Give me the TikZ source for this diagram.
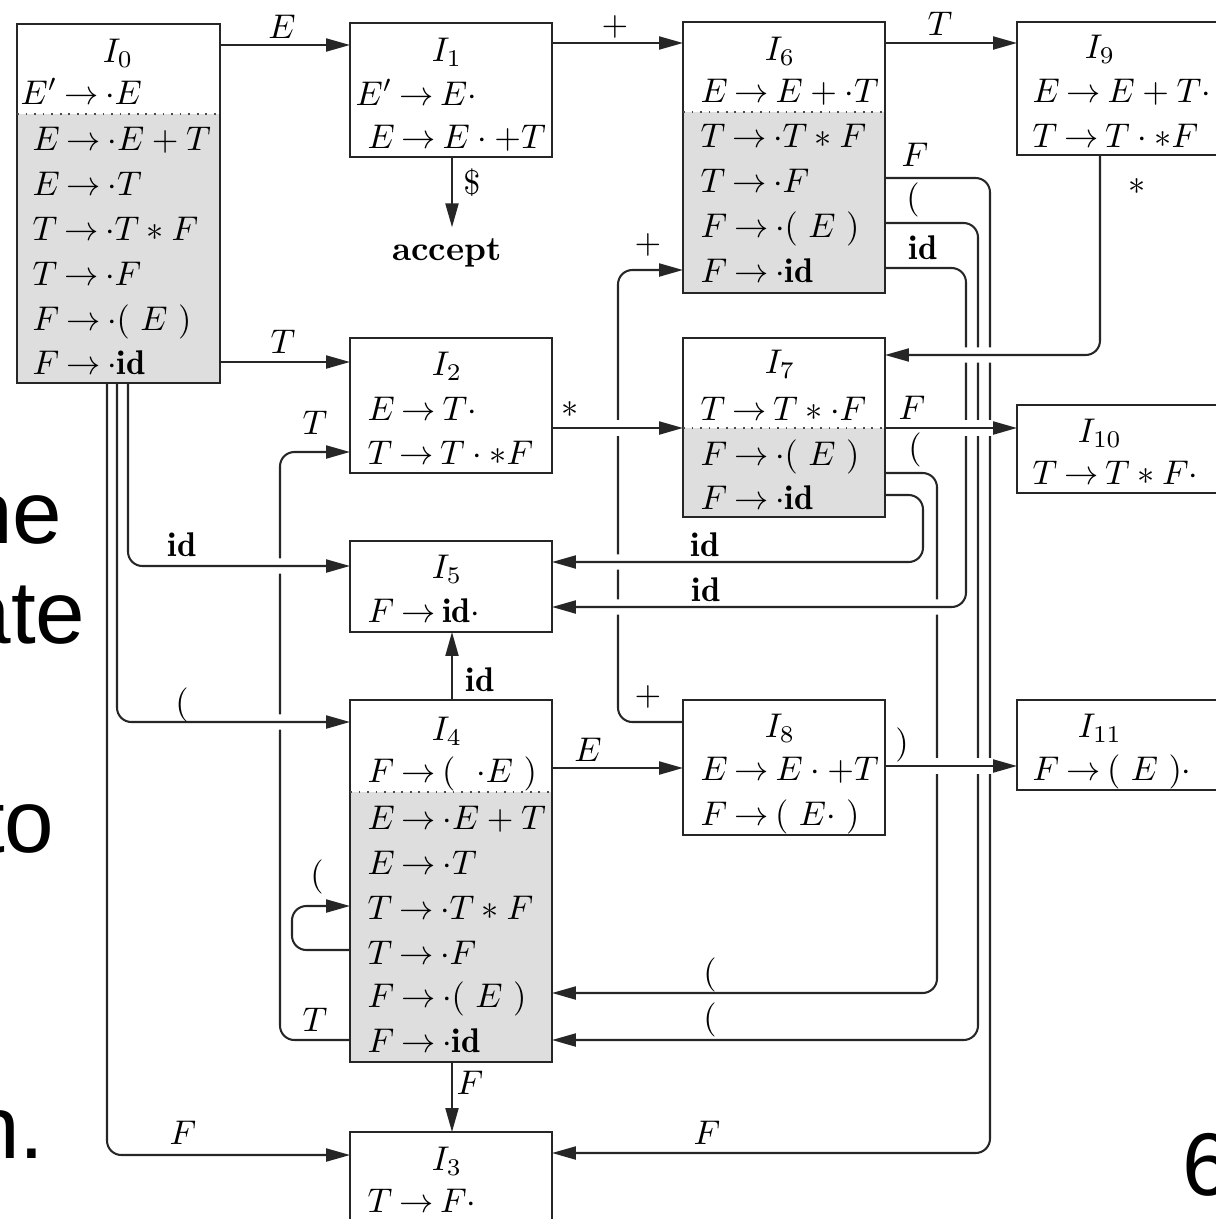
\documentclass[tikz,border=0pt]{standalone}
\usepackage{fontspec}
\newfontfamily\slidefont{Liberation Sans}
\usetikzlibrary{arrows.meta,fit}
\AtBeginDocument{\thickmuskip=3.5mu plus 2mu}
\newcommand\pgapx{\mskip5.5mu}
\begin{document}
\begin{tikzpicture}[x=0.292pt,y=-0.292pt,
  box/.style={draw=black!85, line width=0.6pt, inner sep=0pt, outer sep=0pt},
  shade/.style={fill=black!13},
  sep/.style={draw=black!70, dotted, line width=0.5pt},
  arr/.style={draw=black!85, line width=0.6pt, rounded corners=4.2pt, -{Triangle[length=7pt,width=3.8pt]}},
  over/.style={arr, preaction={draw=white, line width=4.5pt, -, shorten <=2.5pt, shorten >=2.5pt}},
  item/.style={anchor=base west, inner sep=0pt},
  ttl/.style={anchor=base, inner sep=0pt},
  lbl/.style={inner sep=0pt},
  slide/.style={font=\slidefont\fontsize{26}{30}\selectfont, inner sep=0pt}]
\useasboundingbox (0,0) rectangle (1216,1219);
\clip (0,0) rectangle (1216,1219);

% shaded closure parts
\fill[shade] (17,114) rectangle (220,383);
\fill[shade] (683,112) rectangle (885,293);
\fill[shade] (683,428) rectangle (885,517);
\fill[shade] (350,792) rectangle (552,1062);

% state boxes
\node[box, fit={(17,24) (220,383)}] (I0) {};
\node[box, fit={(350,23) (552,157)}] (I1) {};
\node[box, fit={(683,22) (885,293)}] (I6) {};
\node[box, fit={(1017,22) (1240,155)}] (I9) {};
\node[box, fit={(350,338) (552,473)}] (I2) {};
\node[box, fit={(683,338) (885,517)}] (I7) {};
\node[box, fit={(1017,405) (1240,493)}] (I10) {};
\node[box, fit={(350,541) (552,632)}] (I5) {};
\node[box, fit={(350,700) (552,1062)}] (I4) {};
\node[box, fit={(683,700) (885,835)}] (I8) {};
\node[box, fit={(1017,700) (1240,790)}] (I11) {};
\node[box, fit={(350,1132) (552,1250)}] (I3) {};

% dotted separators
\draw[sep] (I0.west |- 0,114) -- (I0.east |- 0,114);
\draw[sep] (I6.west |- 0,112) -- (I6.east |- 0,112);
\draw[sep] (I7.west |- 0,428) -- (I7.east |- 0,428);
\draw[sep] (I4.west |- 0,792) -- (I4.east |- 0,792);

\node[lbl, anchor=base, inner sep=3pt] (accept) at (447,260) {\textbf{accept}};

% plain connectors
\draw[arr] (I0.east |- 0,45) -- (I1.west |- 0,45);
\draw[arr] (I1.east |- 0,43) -- (I6.west |- 0,43);
\draw[arr] (I6.east |- 0,43) -- (I9.west |- 0,43);
\draw[arr] (I1.south -| 452,0) -- (accept.north -| 452,0);
\draw[arr] (I0.east |- 0,362) -- (I2.west |- 0,362);
\draw[arr] (I0.south -| 107,0) -- (107,1155) -- (I3.west |- 0,1155);
\draw[arr] (I4.north -| 452,0) -- (I5.south -| 452,0);
\draw[arr] (I4.east |- 0,768) -- (I8.west |- 0,768);
\draw[arr] (I4.south -| 452,0) -- (I3.north -| 452,0);
\draw[arr] (I8.west |- 0,722) -- (618,722) -- (618,270) -- (I6.west |- 0,270);
\draw[arr] (I4.west |- 0,1040) -- (280,1040) -- (280,452) -- (I2.west |- 0,452);
\draw[arr] (I4.west |- 0,950) -- (292,950) -- (292,906) -- (I4.west |- 0,906);
\draw[arr] (I6.east |- 0,178) -- (990,178) -- (990,1153) -- (I3.east |- 0,1153);
\draw[arr] (I6.east |- 0,223) -- (978,223) -- (978,1040) -- (I4.east |- 0,1040);
\draw[arr] (I7.east |- 0,473) -- (937,473) -- (937,993) -- (I4.east |- 0,993);

% connectors that pass over others
\draw[over] (I6.east |- 0,268) -- (966,268) -- (966,607) -- (I5.east |- 0,607);
\draw[over] (I7.east |- 0,495) -- (923,495) -- (923,562) -- (I5.east |- 0,562);
\draw[over] (I9.south -| 1100,0) -- (1100,355) -- (I7.east |- 0,355);
\draw[over] (I7.east |- 0,428) -- (I10.west |- 0,428);
\draw[over] (I8.east |- 0,766) -- (I11.west |- 0,766);
\draw[over] (I2.east |- 0,428) -- (I7.west |- 0,428);
\draw[over] (I0.south -| 128,0) -- (128,566) -- (I5.west |- 0,566);
\draw[over] (I0.south -| 117,0) -- (117,722) -- (I4.west |- 0,722);

% I0
\node[ttl] (t0) at (118,62) {$I_0$};
\node[item] (r00) at (20,104) {$E'\to\cdot E$};
\node[item] (r01) at (32,150) {$E\to\cdot E+T$};
\node[item] (r02) at (32,195) {$E\to\cdot T$};
\node[item] (r03) at (32,240) {$T\to\cdot T*F$};
\node[item] (r04) at (32,285) {$T\to\cdot F$};
\node[item] (r05) at (32,330) {$F\to\cdot(\pgapx E\pgapx)$};
\node[item] (r06) at (32,374) {$F\to\cdot\mathbf{id}$};
% I1
\node[ttl] (t1) at (447,61) {$I_1$};
\node[item] (r10) at (355,105) {$E'\to E\cdot$};
\node[item] (r11) at (367,148) {$E\to E\cdot+T$};
% I6
\node[ttl] (t6) at (780,60) {$I_6$};
\node[item] (r60) at (700,102) {$E\to E+\cdot T$};
\node[item] (r61) at (700,147) {$T\to\cdot T*F$};
\node[item] (r62) at (700,192) {$T\to\cdot F$};
\node[item] (r63) at (700,237) {$F\to\cdot(\pgapx E\pgapx)$};
\node[item] (r64) at (700,282) {$F\to\cdot\mathbf{id}$};
% I9
\node[ttl] (t9) at (1100,58) {$I_9$};
\node[item] (r90) at (1032,102) {$E\to E+T\cdot$};
\node[item] (r91) at (1032,147) {$T\to T\cdot *F$};
% I2
\node[ttl] (t2) at (447,375) {$I_2$};
\node[item] (r20) at (367,420) {$E\to T\cdot$};
\node[item] (r21) at (367,464) {$T\to T\cdot *F$};
% I7
\node[ttl] (t7) at (780,373) {$I_7$};
\node[item] (r70) at (700,420) {$T\to T*\cdot F$};
\node[item] (r71) at (700,465) {$F\to\cdot(\pgapx E\pgapx)$};
\node[item] (r72) at (700,509) {$F\to\cdot\mathbf{id}$};
% I10
\node[ttl] (t10) at (1100,442) {$I_{10}$};
\node[item] (r100) at (1032,484) {$T\to T*F\cdot$};
% I5
\node[ttl] (t5) at (447,578) {$I_5$};
\node[item] (r50) at (367,622) {$F\to\mathbf{id}\cdot$};
% I4
\node[ttl] (t4) at (447,740) {$I_4$};
\node[item] (r40) at (367,782) {$F\to(\pgapx\pgapx\cdot E\pgapx)$};
\node[item] (r41) at (367,829) {$E\to\cdot E+T$};
\node[item] (r42) at (367,874) {$E\to\cdot T$};
\node[item] (r43) at (367,919) {$T\to\cdot T*F$};
\node[item] (r44) at (367,964) {$T\to\cdot F$};
\node[item] (r45) at (367,1007) {$F\to\cdot(\pgapx E\pgapx)$};
\node[item] (r46) at (367,1052) {$F\to\cdot\mathbf{id}$};
% I8
\node[ttl] (t8) at (780,737) {$I_8$};
\node[item] (r80) at (700,780) {$E\to E\cdot+T$};
\node[item] (r81) at (700,825) {$F\to(\pgapx E\cdot\pgapx)$};
% I11
\node[ttl] (t11) at (1100,737) {$I_{11}$};
\node[item] (r110) at (1032,780) {$F\to(\pgapx E\pgapx)\cdot$};
% I3
\node[ttl] (t3) at (447,1170) {$I_3$};
\node[item] (r30) at (367,1212) {$T\to F\cdot$};

% transition labels
\node[lbl] (lE1) at (282,27) {$E$};
\node[lbl] (lP1) at (615,27) {$+$};
\node[lbl] (lT1) at (940,24) {$T$};
\node[lbl] (lD) at (472,183) {\$};
\node[lbl] (lT2) at (283,342) {$T$};
\node[lbl] (lS1) at (570,410) {$*$};
\node[lbl] (lS2) at (1137,187) {$*$};
\node[lbl] (lF1) at (912,408) {$F$};
\node[lbl] (lid1) at (182,545) {$\mathbf{id}$};
\node[lbl] (lpar1) at (182,705) {$($};
\node[lbl] (lF2) at (183,1133) {$F$};
\node[lbl] (lid2) at (480,680) {$\mathbf{id}$};
\node[lbl] (lE2) at (588,750) {$E$};
\node[lbl] (lrp) at (902,745) {$)$};
\node[lbl] (lP2) at (648,245) {$+$};
\node[lbl] (lP3) at (648,697) {$+$};
\node[lbl] (lT3) at (315,423) {$T$};
\node[lbl] (lT4) at (315,1020) {$T$};
\node[lbl] (lpar2) at (317,877) {$($};
\node[lbl] (lF3) at (470,1083) {$F$};
\node[lbl] (lF4) at (915,155) {$F$};
\node[lbl] (lF5) at (707,1133) {$F$};
\node[lbl] (lpar3) at (913,200) {$($};
\node[lbl] (lpar4) at (710,1020) {$($};
\node[lbl] (lid3) at (923,248) {$\mathbf{id}$};
\node[lbl] (lid4) at (706,590) {$\mathbf{id}$};
\node[lbl] (lpar5) at (915,450) {$($};
\node[lbl] (lpar6) at (710,975) {$($};
\node[lbl] (lid5) at (705,545) {$\mathbf{id}$};

% fragments of slide text behind the figure
\node[slide, anchor=base east] (s1) at (63,543) {he};
\node[slide, anchor=base east] (s2) at (86,643) {ate};
\node[slide, anchor=base east] (s3) at (55,852) {to};
\node[slide, anchor=base east] (s4) at (45,1158) {n.};
\node[slide, anchor=base west] (s5) at (1182,1195) {6};
\end{tikzpicture}
\end{document}
